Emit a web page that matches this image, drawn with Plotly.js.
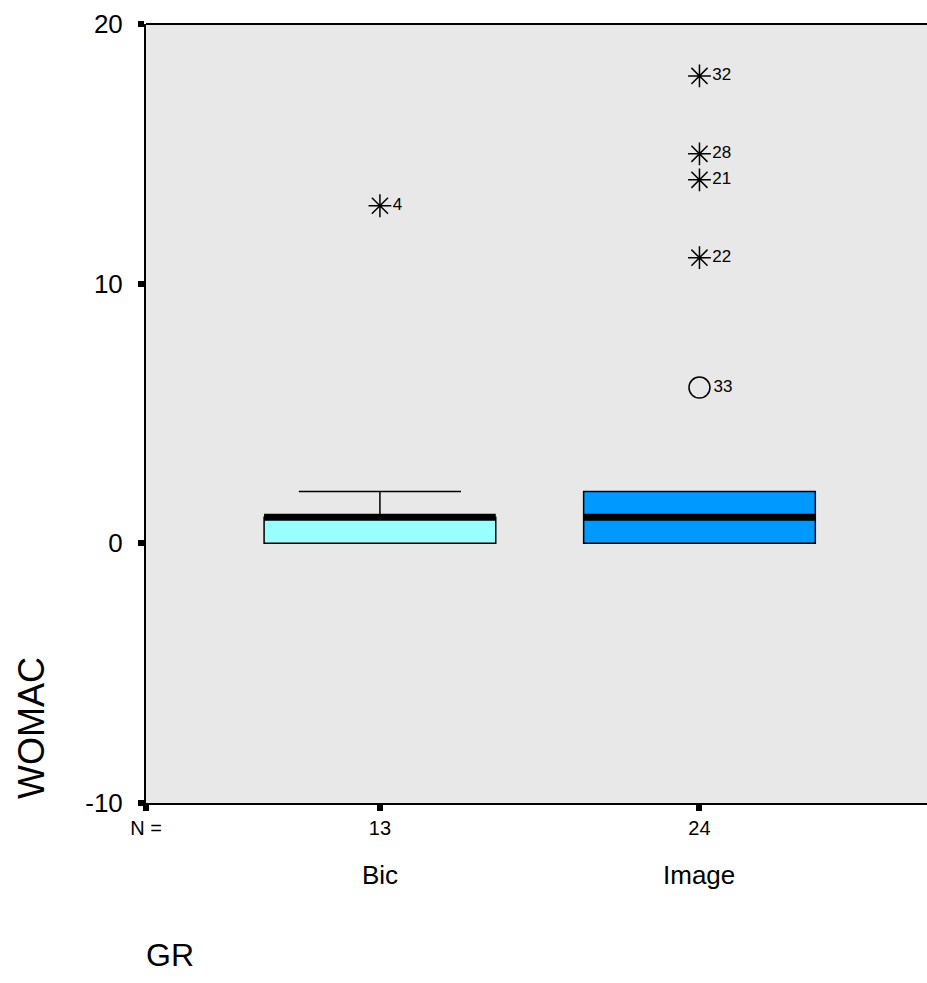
<!DOCTYPE html>
<html>
<head>
<meta charset="utf-8">
<script src="https://cdn.plot.ly/plotly-3.0.1.min.js"></script>
<style>html,body{margin:0;padding:0;background:#fff;}#chart{width:927px;height:983px;}</style>
</head>
<body>
<div id="chart"></div>
<script>
// ---- data ----
const groups = ['Bic', 'Image'];
const counts = [13, 24];
const q1 = [0, 0];
const medians = [1, 1];
const q3 = [1, 2];
const lowerFence = [0, 0];
const upperFence = [2, 2];
const fills = ['#99ffff', '#0099ff'];

// extremes (asterisks) and outliers (circles): group index, value, case id
const extremeGroup = [0, 1, 1, 1, 1];
const extremeValues = [13, 18, 15, 14, 11];
const extremeIds = ['4', '32', '28', '21', '22'];
const outlierGroup = [1];
const outlierValues = [6];
const outlierIds = ['33'];

const yTicks = [-10, 0, 10, 20];
const yTickText = ['-10', '0', '10', '20'];
const xRange = [-0.732, 1.712];

const FONT = 'Liberation Sans, Arial, sans-serif';
const traces = [];
groups.forEach((g, i) => {
  traces.push({
    type: 'box', x: [i], q1: [q1[i]], median: [medians[i]], q3: [q3[i]],
    lowerfence: [lowerFence[i]], upperfence: [upperFence[i]],
    width: 0.725, whiskerwidth: 0.7, fillcolor: fills[i],
    line: {color: '#000', width: 1.5}, boxpoints: false, showlegend: false, hoverinfo: 'skip'
  });
  traces.push({
    type: 'box', x: [i], q1: [medians[i]], median: [medians[i]], q3: [medians[i]],
    lowerfence: [medians[i]], upperfence: [medians[i]],
    width: 0.725, fillcolor: 'rgba(0,0,0,0)',
    line: {color: '#000', width: 7}, boxpoints: false, showlegend: false, hoverinfo: 'skip'
  });
});
traces.push({
  type: 'scatter', mode: 'markers+text', x: extremeGroup, y: extremeValues, text: extremeIds,
  textposition: 'middle right', textfont: {family: FONT, size: 17, color: '#000'},
  marker: {symbol: 'asterisk-open', size: 19, line: {color: '#000', width: 1.5}, color: '#000'},
  showlegend: false, cliponaxis: false
});
traces.push({
  type: 'scatter', mode: 'markers+text', x: outlierGroup, y: outlierValues, text: outlierIds,
  textposition: 'middle right', textfont: {family: FONT, size: 17, color: '#000'},
  marker: {symbol: 'circle-open', size: 21, line: {color: '#000', width: 1.5}, color: '#000'},
  showlegend: false, cliponaxis: false
});

const annotations = groups.map((g, i) => ({
  x: i, xref: 'x', y: 0, yref: 'paper', yanchor: 'middle', yshift: -72,
  text: g, showarrow: false, font: {family: FONT, size: 26, color: '#000'}
}));
annotations.push({
  x: 0, xref: 'paper', xanchor: 'center', xshift: -115, y: 0, yref: 'paper', yanchor: 'middle', yshift: 75,
  text: 'WOMAC', textangle: -90, showarrow: false, font: {family: FONT, size: 36, color: '#000'}
});
annotations.push({
  x: 0, xref: 'paper', xanchor: 'center', xshift: 24, y: 0, yref: 'paper', yanchor: 'middle', yshift: -152,
  text: 'GR', showarrow: false, font: {family: FONT, size: 32, color: '#000'}
});

const layout = {
  width: 927, height: 983,
  margin: {l: 146, r: 0, t: 24, b: 180},
  paper_bgcolor: '#fff', plot_bgcolor: '#e8e8e8',
  showlegend: false,
  xaxis: {
    range: xRange, tickvals: [xRange[0], 0, 1], ticktext: ['N =', String(counts[0]), String(counts[1])],
    ticks: 'outside', ticklen: 6, tickwidth: 6, tickcolor: '#000',
    showline: true, linecolor: '#000', linewidth: 2, showgrid: false, zeroline: false,
    tickfont: {family: FONT, size: 20, color: '#000'}, fixedrange: true
  },
  yaxis: {
    range: [-10, 20], tickvals: yTicks, ticktext: yTickText,
    ticks: 'outside', ticklen: 6, tickwidth: 6, tickcolor: '#000', ticklabelstandoff: 10,
    showline: true, linecolor: '#000', linewidth: 2, showgrid: false, zeroline: false,
    tickfont: {family: FONT, size: 26, color: '#000'}, fixedrange: true
  },
  shapes: [{type: 'line', xref: 'paper', yref: 'paper', x0: 0, x1: 1, y0: 1, y1: 1, line: {color: '#000', width: 2}}],
  annotations: annotations
};

Plotly.newPlot('chart', traces, layout, {displayModeBar: false, staticPlot: true});
</script>
</body>
</html>
